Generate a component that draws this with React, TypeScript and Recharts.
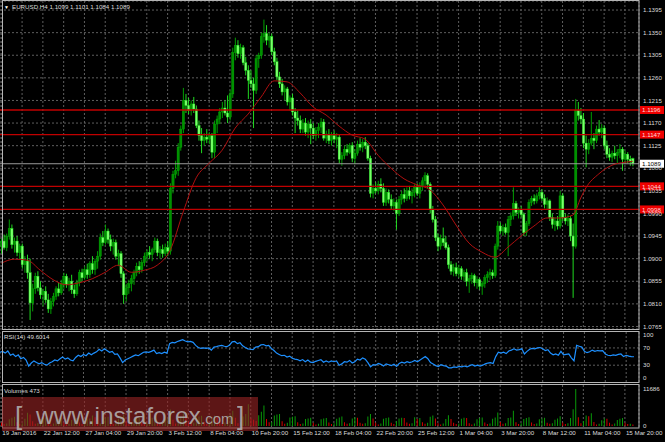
import React from "react";
import {
  ComposedChart,
  Bar,
  Line,
  XAxis,
  YAxis,
  CartesianGrid,
  ReferenceLine,
  Cell,
} from "recharts";

// EURUSD H4, one entry per bar (19 Jan 2016 20:00 .. 16 Mar 2016)
const opens = [
  1.0925, 1.0935, 1.0922, 1.0945, 1.0960, 1.0928, 1.0935, 1.0912, 1.0925, 1.0888,
  1.0895, 1.0872, 1.0812, 1.0840, 1.0865, 1.0842, 1.0828, 1.0835, 1.0818, 1.0800,
  1.0815, 1.0825, 1.0840, 1.0832, 1.0850, 1.0865, 1.0848, 1.0855, 1.0838, 1.0830,
  1.0852, 1.0872, 1.0862, 1.0878, 1.0868, 1.0890, 1.0878, 1.0895, 1.0905, 1.0942,
  1.0932, 1.0955, 1.0938, 1.0925, 1.0932, 1.0905, 1.0910, 1.0870, 1.0828, 1.0842,
  1.0850, 1.0860, 1.0872, 1.0885, 1.0878, 1.0892, 1.0905, 1.0912, 1.0908, 1.0918,
  1.0935, 1.0912, 1.0918, 1.0910, 1.0922, 1.0915, 1.1040, 1.1068, 1.1075, 1.1122,
  1.1158, 1.1215, 1.1205, 1.1195, 1.1208, 1.1198, 1.1165, 1.1145, 1.1135, 1.1142,
  1.1138, 1.1145, 1.1112, 1.1168, 1.1178, 1.1192, 1.1200, 1.1190, 1.1182, 1.1228,
  1.1310, 1.1325, 1.1308, 1.1320, 1.1290, 1.1275, 1.1255, 1.1248, 1.1235, 1.1298,
  1.1305, 1.1342, 1.1348, 1.1335, 1.1342, 1.1312, 1.1292, 1.1262, 1.1248, 1.1232,
  1.1238, 1.1212, 1.1220, 1.1192, 1.1180, 1.1175, 1.1158, 1.1170, 1.1152, 1.1168,
  1.1160, 1.1145, 1.1155, 1.1162, 1.1172, 1.1140, 1.1148, 1.1135, 1.1145, 1.1138,
  1.1142, 1.1098, 1.1105, 1.1118, 1.1112, 1.1125, 1.1100, 1.1110, 1.1128, 1.1122,
  1.1132, 1.1125, 1.1100, 1.1030, 1.1040, 1.1035, 1.1048, 1.1040, 1.1012, 1.1032,
  1.1018, 1.1005, 1.1012, 1.0990, 1.1018, 1.1028, 1.1020, 1.1035, 1.1025, 1.1032,
  1.1042, 1.1030, 1.1045, 1.1055, 1.1065, 1.1048, 1.0998, 1.0978, 1.0942, 1.0925,
  1.0940, 1.0932, 1.0922, 1.0888, 1.0875, 1.0882, 1.0870, 1.0880, 1.0865, 1.0872,
  1.0855, 1.0860, 1.0866, 1.0852, 1.0858, 1.0845, 1.0850, 1.0862, 1.0868, 1.0872,
  1.0866, 1.0925, 1.0965, 1.0955, 1.0962, 1.0952, 1.0978, 1.0985, 1.1010, 1.0992,
  1.0998, 1.0988, 1.0952, 1.0970, 1.1012, 1.1020, 1.1015, 1.1025, 1.1032, 1.1020,
  1.1008, 1.1015, 1.0982, 1.0968, 1.0975, 1.0965, 1.1025, 1.0982, 1.0975, 1.0980,
  1.0945, 1.0925, 1.1195, 1.1185, 1.1178, 1.1130, 1.1118, 1.1130, 1.1140, 1.1135,
  1.1158, 1.1152, 1.1160, 1.1125, 1.1108, 1.1102, 1.1110, 1.1105, 1.1112, 1.1118,
  1.1098, 1.1108, 1.1098, 1.1099,
];

const highs = [
  1.0940, 1.0948, 1.0950, 1.0978, 1.0968, 1.0942, 1.0945, 1.0930, 1.0930, 1.0905,
  1.0908, 1.0900, 1.0850, 1.0872, 1.0875, 1.0855, 1.0840, 1.0845, 1.0830, 1.0822,
  1.0832, 1.0845, 1.0852, 1.0858, 1.0872, 1.0870, 1.0862, 1.0868, 1.0848, 1.0858,
  1.0878, 1.0880, 1.0885, 1.0890, 1.0895, 1.0905, 1.0900, 1.0915, 1.0950, 1.0955,
  1.0968, 1.0960, 1.0948, 1.0940, 1.0938, 1.0918, 1.0915, 1.0875, 1.0850, 1.0858,
  1.0868, 1.0878, 1.0892, 1.0895, 1.0898, 1.0912, 1.0918, 1.0925, 1.0922, 1.0942,
  1.0940, 1.0925, 1.0928, 1.0930, 1.0935, 1.1050, 1.1075, 1.1095, 1.1130, 1.1165,
  1.1240, 1.1228, 1.1220, 1.1215, 1.1222, 1.1205, 1.1175, 1.1160, 1.1150, 1.1158,
  1.1152, 1.1150, 1.1175, 1.1185, 1.1200, 1.1212, 1.1215, 1.1225, 1.1235, 1.1320,
  1.1340, 1.1335, 1.1328, 1.1325, 1.1302, 1.1285, 1.1275, 1.1260, 1.1305, 1.1310,
  1.1350, 1.1376, 1.1365, 1.1350, 1.1348, 1.1320, 1.1300, 1.1272, 1.1258, 1.1245,
  1.1242, 1.1225, 1.1228, 1.1200, 1.1195, 1.1185, 1.1178, 1.1180, 1.1175, 1.1178,
  1.1170, 1.1162, 1.1170, 1.1180, 1.1178, 1.1155, 1.1158, 1.1152, 1.1155, 1.1150,
  1.1148, 1.1112, 1.1125, 1.1128, 1.1130, 1.1132, 1.1118, 1.1135, 1.1140, 1.1138,
  1.1142, 1.1130, 1.1105, 1.1048, 1.1052, 1.1055, 1.1060, 1.1050, 1.1040, 1.1038,
  1.1028, 1.1020, 1.1018, 1.1025, 1.1035, 1.1040, 1.1042, 1.1045, 1.1040, 1.1048,
  1.1050, 1.1052, 1.1062, 1.1072, 1.1070, 1.1052, 1.1005, 1.0985, 1.0950, 1.0948,
  1.0962, 1.0945, 1.0928, 1.0895, 1.0890, 1.0892, 1.0888, 1.0885, 1.0878, 1.0880,
  1.0868, 1.0872, 1.0870, 1.0865, 1.0862, 1.0855, 1.0868, 1.0875, 1.0880, 1.0878,
  1.0930, 1.0975, 1.0972, 1.0968, 1.0970, 1.0985, 1.0992, 1.1042, 1.1015, 1.1002,
  1.1005, 1.0992, 1.0975, 1.1018, 1.1025, 1.1028, 1.1030, 1.1042, 1.1038, 1.1028,
  1.1022, 1.1018, 1.0990, 1.0982, 1.0985, 1.1035, 1.1030, 1.0990, 1.0988, 1.0985,
  1.0970, 1.1218, 1.1212, 1.1200, 1.1190, 1.1145, 1.1138, 1.1192, 1.1150, 1.1165,
  1.1176, 1.1168, 1.1165, 1.1135, 1.1120, 1.1115, 1.1125, 1.1118, 1.1128, 1.1122,
  1.1115, 1.1112, 1.1105, 1.1101,
];

const lows = [
  1.0910, 1.0918, 1.0915, 1.0938, 1.0920, 1.0912, 1.0905, 1.0898, 1.0880, 1.0872,
  1.0860, 1.0778, 1.0795, 1.0830, 1.0835, 1.0820, 1.0805, 1.0812, 1.0792, 1.0790,
  1.0805, 1.0818, 1.0825, 1.0828, 1.0840, 1.0842, 1.0835, 1.0830, 1.0822, 1.0826,
  1.0845, 1.0855, 1.0858, 1.0860, 1.0862, 1.0870, 1.0868, 1.0880, 1.0898, 1.0925,
  1.0928, 1.0930, 1.0915, 1.0908, 1.0898, 1.0885, 1.0862, 1.0810, 1.0815, 1.0830,
  1.0835, 1.0848, 1.0865, 1.0870, 1.0872, 1.0885, 1.0895, 1.0900, 1.0895, 1.0912,
  1.0905, 1.0900, 1.0902, 1.0905, 1.0905, 1.0908, 1.1030, 1.1060, 1.1065, 1.1115,
  1.1150, 1.1190, 1.1188, 1.1185, 1.1190, 1.1160, 1.1135, 1.1110, 1.1125, 1.1130,
  1.1128, 1.1100, 1.1100, 1.1150, 1.1168, 1.1180, 1.1185, 1.1170, 1.1175, 1.1220,
  1.1295, 1.1300, 1.1298, 1.1285, 1.1265, 1.1218, 1.1240, 1.1160, 1.1228, 1.1280,
  1.1298, 1.1330, 1.1325, 1.1320, 1.1305, 1.1285, 1.1255, 1.1240, 1.1225, 1.1215,
  1.1205, 1.1195, 1.1185, 1.1150, 1.1165, 1.1150, 1.1150, 1.1145, 1.1140, 1.1128,
  1.1138, 1.1135, 1.1140, 1.1150, 1.1135, 1.1130, 1.1128, 1.1125, 1.1130, 1.1120,
  1.1090, 1.1085, 1.1098, 1.1105, 1.1108, 1.1092, 1.1088, 1.1105, 1.1115, 1.1112,
  1.1118, 1.1095, 1.1022, 1.1020, 1.1030, 1.1028, 1.1032, 1.1005, 1.1005, 1.1010,
  1.0998, 1.0995, 1.0958, 1.0985, 1.1008, 1.1012, 1.1015, 1.1018, 1.1010, 1.1022,
  1.1025, 1.1020, 1.1035, 1.1045, 1.1040, 1.0990, 1.0972, 1.0935, 1.0915, 1.0918,
  1.0925, 1.0918, 1.0880, 1.0868, 1.0865, 1.0865, 1.0862, 1.0858, 1.0855, 1.0845,
  1.0832, 1.0850, 1.0845, 1.0840, 1.0838, 1.0828, 1.0842, 1.0852, 1.0858, 1.0860,
  1.0862, 1.0918, 1.0950, 1.0945, 1.0948, 1.0905, 1.0965, 1.0978, 1.0985, 1.0980,
  1.0982, 1.0945, 1.0945, 1.0965, 1.1005, 1.1008, 1.1010, 1.1018, 1.1015, 1.1000,
  1.0998, 1.0975, 1.0960, 1.0955, 1.0958, 1.0960, 1.0975, 1.0968, 1.0965, 1.0935,
  1.0822, 1.0920, 1.1175, 1.1168, 1.1120, 1.1082, 1.1108, 1.1125, 1.1118, 1.1130,
  1.1145, 1.1140, 1.1118, 1.1100, 1.1095, 1.1092, 1.1098, 1.1090, 1.1100, 1.1075,
  1.1088, 1.1090, 1.1085, 1.1084,
];

const closes = [
  1.0935, 1.0922, 1.0945, 1.0960, 1.0928, 1.0935, 1.0912, 1.0925, 1.0888, 1.0895,
  1.0872, 1.0812, 1.0840, 1.0865, 1.0842, 1.0828, 1.0835, 1.0818, 1.0800, 1.0815,
  1.0825, 1.0840, 1.0832, 1.0850, 1.0865, 1.0848, 1.0855, 1.0838, 1.0830, 1.0852,
  1.0872, 1.0862, 1.0878, 1.0868, 1.0890, 1.0878, 1.0895, 1.0905, 1.0942, 1.0932,
  1.0955, 1.0938, 1.0925, 1.0932, 1.0905, 1.0910, 1.0870, 1.0828, 1.0842, 1.0850,
  1.0860, 1.0872, 1.0885, 1.0878, 1.0892, 1.0905, 1.0912, 1.0908, 1.0918, 1.0935,
  1.0912, 1.0918, 1.0910, 1.0922, 1.0915, 1.1040, 1.1068, 1.1075, 1.1122, 1.1158,
  1.1215, 1.1205, 1.1195, 1.1208, 1.1198, 1.1165, 1.1145, 1.1135, 1.1142, 1.1138,
  1.1145, 1.1112, 1.1168, 1.1178, 1.1192, 1.1200, 1.1190, 1.1182, 1.1228, 1.1310,
  1.1325, 1.1308, 1.1320, 1.1290, 1.1275, 1.1255, 1.1248, 1.1235, 1.1298, 1.1305,
  1.1342, 1.1348, 1.1335, 1.1342, 1.1312, 1.1292, 1.1262, 1.1248, 1.1232, 1.1238,
  1.1212, 1.1220, 1.1192, 1.1180, 1.1175, 1.1158, 1.1170, 1.1152, 1.1168, 1.1160,
  1.1145, 1.1155, 1.1162, 1.1172, 1.1140, 1.1148, 1.1135, 1.1145, 1.1138, 1.1142,
  1.1098, 1.1105, 1.1118, 1.1112, 1.1125, 1.1100, 1.1110, 1.1128, 1.1122, 1.1132,
  1.1125, 1.1100, 1.1030, 1.1040, 1.1035, 1.1048, 1.1040, 1.1012, 1.1032, 1.1018,
  1.1005, 1.1012, 1.0990, 1.1018, 1.1028, 1.1020, 1.1035, 1.1025, 1.1032, 1.1042,
  1.1030, 1.1045, 1.1055, 1.1065, 1.1048, 1.0998, 1.0978, 1.0942, 1.0925, 1.0940,
  1.0932, 1.0922, 1.0888, 1.0875, 1.0882, 1.0870, 1.0880, 1.0865, 1.0872, 1.0855,
  1.0860, 1.0866, 1.0852, 1.0858, 1.0845, 1.0850, 1.0862, 1.0868, 1.0872, 1.0866,
  1.0925, 1.0965, 1.0955, 1.0962, 1.0952, 1.0978, 1.0985, 1.1010, 1.0992, 1.0998,
  1.0988, 1.0952, 1.0970, 1.1012, 1.1020, 1.1015, 1.1025, 1.1032, 1.1020, 1.1008,
  1.1015, 1.0982, 1.0968, 1.0975, 1.0965, 1.1025, 1.0982, 1.0975, 1.0980, 1.0945,
  1.0925, 1.1195, 1.1185, 1.1178, 1.1130, 1.1118, 1.1130, 1.1140, 1.1135, 1.1158,
  1.1152, 1.1160, 1.1125, 1.1108, 1.1102, 1.1110, 1.1105, 1.1112, 1.1118, 1.1098,
  1.1108, 1.1098, 1.1094, 1.1089,
];

// moving average at these bars
const maBars = [
  0, 5, 10, 15, 20, 25, 30, 35, 40, 45, 50, 55, 60, 65, 70, 75, 80, 85, 90, 95,
  100, 105, 110, 115, 120, 125, 130, 135, 140, 145, 150, 155, 160, 165, 170, 175,
  180, 185, 190, 195, 200, 205, 210, 215, 220, 223, 225, 230, 235, 240, 243,
];
const maValues = [
  1.0891, 1.0899, 1.0897, 1.0877, 1.0858, 1.0848, 1.0852, 1.0860, 1.0873, 1.0887,
  1.0873, 1.0877, 1.0887, 1.0917, 1.0993, 1.1061, 1.1090, 1.1116, 1.1160, 1.1188,
  1.1222, 1.1254, 1.1252, 1.1230, 1.1202, 1.1186, 1.1164, 1.1146, 1.1138, 1.1106,
  1.1080, 1.1059, 1.1047, 1.1037, 1.1007, 1.0967, 1.0931, 1.0913, 1.0903, 1.0923,
  1.0945, 1.0965, 1.0981, 1.0981, 1.0987, 1.1021, 1.1041, 1.1069, 1.1086, 1.1092,
  1.1094,
];

const rsiValues = [
  60, 62, 58, 63, 53, 56, 50, 54, 45, 48,
  42, 28, 35, 40, 36, 33, 36, 32, 30, 35,
  38, 42, 40, 45, 49, 44, 47, 42, 40, 48,
  53, 50, 55, 52, 58, 54, 58, 61, 67, 63,
  68, 64, 60, 62, 55, 56, 47, 36, 42, 45,
  48, 51, 54, 52, 56, 60, 61, 60, 62, 65,
  57, 59, 57, 60, 58, 80, 83, 82, 85, 87,
  89, 86, 84, 85, 83, 76, 71, 69, 70, 69,
  70, 65, 72, 73, 75, 76, 74, 73, 77, 84,
  85, 80, 82, 75, 71, 68, 67, 66, 72, 73,
  77, 78, 75, 76, 69, 64, 58, 55, 52, 53,
  49, 51, 46, 44, 43, 40, 43, 38, 42, 37,
  36, 39, 41, 43, 37, 40, 37, 40, 38, 40,
  30, 33, 38, 37, 41, 35, 38, 44, 42, 47,
  44, 36, 26, 31, 30, 34, 32, 28, 33, 31,
  29, 32, 27, 34, 37, 35, 38, 36, 38, 41,
  38, 42, 46, 50, 45, 36, 33, 29, 27, 31,
  29, 28, 24, 24, 26, 25, 27, 26, 28, 26,
  29, 31, 28, 30, 28, 30, 33, 35, 36, 34,
  50, 60, 58, 60, 57, 63, 65, 68, 65, 66,
  68, 56, 62, 67, 69, 68, 70, 71, 68, 64,
  66, 58, 54, 56, 53, 62, 54, 55, 56, 47,
  40, 76, 74, 72, 62, 59, 61, 65, 62, 64,
  63, 64, 56, 53, 52, 54, 53, 55, 56, 50,
  53, 51, 50, 49.6014,
];

const volumes = [
  1100, 600, 800, 2100, 2600, 2900, 1200, 650, 900, 2300,
  4200, 3600, 1500, 700, 950, 2200, 2500, 2700, 1100, 500,
  800, 2000, 2300, 2600, 1000, 550, 750, 1900, 2200, 2500,
  1100, 600, 800, 2100, 2400, 3300, 2800, 700, 900, 2300,
  2600, 2900, 1300, 600, 900, 2400, 3000, 3500, 1400, 550,
  800, 2100, 2500, 2700, 1000, 600, 850, 2200, 2600, 3000,
  1200, 650, 900, 2300, 2800, 5200, 2000, 800, 1200, 3000,
  4000, 3300, 1400, 700, 1000, 2800, 3000, 3200, 1300, 600,
  1000, 2700, 3200, 3100, 1500, 800, 1100, 3200, 3600, 4800,
  2600, 900, 1200, 3000, 3800, 6900, 2400, 2000, 1600, 3400,
  4500, 6500, 2200, 1200, 1300, 3300, 3600, 3800, 1500, 700,
  1000, 2700, 2900, 3100, 1200, 600, 800, 2200, 2400, 2600,
  1000, 500, 700, 2100, 2400, 2500, 1100, 600, 900, 2300,
  2700, 3000, 1200, 700, 900, 2400, 2800, 2600, 1000, 700,
  900, 3000, 3800, 2400, 1000, 500, 800, 2300, 2500, 2700,
  1000, 600, 1500, 2400, 2600, 2500, 1100, 700, 900, 2800,
  2200, 2500, 1200, 700, 1000, 2900, 3300, 2400, 900, 500,
  800, 2200, 3400, 2200, 1000, 600, 800, 2300, 2600, 2500,
  900, 500, 800, 2100, 2500, 2700, 1100, 600, 800, 2300,
  2700, 4300, 1300, 700, 900, 2500, 2700, 4800, 1200, 600,
  900, 2200, 2500, 2800, 1100, 600, 800, 2100, 2400, 2600,
  1000, 700, 900, 2000, 2400, 3100, 1100, 600, 900, 2500,
  5300, 11686, 2800, 900, 1600, 3300, 3100, 4000, 1300, 500,
  700, 1800, 2400, 2300, 1000, 500, 800, 1900, 2300, 2500,
  1000, 600, 700, 473,
];

const priceTicks = [
  1.0765, 1.081, 1.0855, 1.09, 1.0945, 1.099, 1.1035, 1.108, 1.1125, 1.117,
  1.1215, 1.126, 1.1305, 1.135, 1.1395,
];
const levelLines = [1.1196, 1.1147, 1.1044, 1.0998];
const lastPrice = 1.1089;

const gridBars = [
  0, 8, 16, 24, 32, 40, 48, 56, 64, 72, 80, 88, 96, 104, 112, 120, 128, 136, 144,
  152, 160, 168, 176, 184, 192, 200, 208, 216, 224, 232, 240,
];
const labelBars = [0, 16, 32, 48, 64, 80, 96, 112, 128, 144, 160, 176, 192, 208, 224, 240];
const labelTexts = [
  "19 Jan 2016", "22 Jan 12:00", "27 Jan 04:00", "29 Jan 20:00", "3 Feb 12:00",
  "8 Feb 04:00", "10 Feb 20:00", "15 Feb 12:00", "18 Feb 04:00", "22 Feb 20:00",
  "25 Feb 12:00", "1 Mar 04:00", "3 Mar 20:00", "8 Mar 12:00", "11 Mar 04:00",
  "15 Mar 20:00",
];

const rows = closes.map((c, i) => {
  const k = maBars.indexOf(i);
  return {
    i,
    open: opens[i],
    high: highs[i],
    low: lows[i],
    close: c,
    range: [lows[i], highs[i]],
    ma: k >= 0 ? maValues[k] : null,
    rsi: rsiValues[i],
    vol: volumes[i],
  };
});

const FONT = "'Liberation Sans', Arial, sans-serif";
const TXT = "#dcdcdc";
const GRID = "#5e5e5e";
const W = 665;
const AXIS_W = 26;

function Candle(props: any) {
  const { x, width, payload } = props;
  let { y, height } = props;
  if (!payload || y == null || height == null) return <g />;
  if (height < 0) {
    y += height;
    height = -height;
  }
  const { open, close, high, low } = payload;
  const span = high - low || 1e-9;
  const py = (p: number) => y + ((high - p) / span) * height;
  const cx = x + width / 2;
  const up = close >= open;
  const top = py(Math.max(open, close));
  const bot = py(Math.min(open, close));
  const bw = Math.max(1.5, width * 0.75);
  const wick = up ? "#00b000" : "#22f022";
  const body = up ? "#009000" : "#7cff6c";
  return (
    <g>
      <line x1={cx} x2={cx} y1={y} y2={y + height} stroke={wick} strokeWidth={0.9} />
      <rect x={cx - bw / 2} y={top} width={bw} height={Math.max(0.9, bot - top)} fill={body} stroke={wick} strokeWidth={0.4} />
    </g>
  );
}

function tagLabel(text: string, bg: string, fg: string) {
  return (props: any) => {
    const vb = props.viewBox || {};
    const x = vb.x + vb.width + 1;
    const y = vb.y;
    return (
      <g>
        <rect x={x} y={y - 4} width={24} height={8} fill={bg} />
        <text x={x + 2} y={y + 2.3} fontSize={6.2} fontFamily={FONT} fill={fg}>
          {text}
        </text>
      </g>
    );
  };
}

function TimeTick(props: any) {
  const { x, y, payload } = props;
  const k = labelBars.indexOf(payload.value);
  if (k < 0) return <g />;
  return (
    <text x={x + 1} y={y + 8} fontSize={6.2} fontFamily={FONT} fill={TXT} textAnchor="start">
      {labelTexts[k]}
    </text>
  );
}

const yTick = { fontSize: 6.2, fontFamily: FONT, fill: TXT };

export default function App() {
  return (
    <div style={{ position: "absolute", left: 0, top: 0, width: W, height: 442, background: "#000", overflow: "hidden" }}>
      <div style={{ position: "absolute", left: 0, top: 0 }}>
        <ComposedChart width={W} height={330} data={rows} margin={{ top: 1, right: 0, bottom: 1, left: 0 }} barCategoryGap={0}>
          <CartesianGrid stroke={GRID} strokeDasharray="2 2" />
          <XAxis dataKey="i" hide ticks={gridBars} interval={0} padding={{ left: 0, right: 5 }} />
          <YAxis
            orientation="right"
            width={AXIS_W}
            domain={[1.076, 1.1413]}
            ticks={priceTicks}
            allowDataOverflow
            interval={0}
            tickLine={false}
            axisLine={false}
            tickSize={2}
            tickMargin={2}
            tick={yTick}
            tickFormatter={(v: number) => v.toFixed(4)}
          />
          {levelLines.map((p) => (
            <ReferenceLine key={p} y={p} stroke="#c00000" strokeWidth={1.3} label={tagLabel(p.toFixed(4), "#ee0000", "#ffd8d8")} />
          ))}
          <ReferenceLine y={lastPrice} stroke="#9a9a9a" strokeWidth={1} label={tagLabel(lastPrice.toFixed(4), "#ffffff", "#000000")} />
          <Bar dataKey="range" shape={<Candle />} isAnimationActive={false} />
          <Line dataKey="ma" type="monotone" stroke="#b01010" strokeWidth={1} dot={false} connectNulls isAnimationActive={false} />
        </ComposedChart>
      </div>

      <div style={{ position: "absolute", left: 0, top: 330 }}>
        <ComposedChart width={W} height={53} data={rows} margin={{ top: 2, right: 0, bottom: 1, left: 0 }}>
          <CartesianGrid stroke={GRID} strokeDasharray="2 2" horizontal={false} />
          <XAxis dataKey="i" hide ticks={gridBars} interval={0} padding={{ left: 0, right: 5 }} />
          <YAxis
            orientation="right"
            width={AXIS_W}
            domain={[-9, 107]}
            ticks={[0, 30, 70, 100]}
            interval={0}
            tickLine={false}
            axisLine={false}
            tickSize={2}
            tickMargin={2}
            tick={yTick}
          />
          <ReferenceLine y={70} stroke={GRID} strokeDasharray="2 2" />
          <ReferenceLine y={30} stroke={GRID} strokeDasharray="2 2" />
          <Line dataKey="rsi" type="linear" stroke="#1e90ff" strokeWidth={1.2} dot={false} isAnimationActive={false} />
        </ComposedChart>
      </div>

      <div style={{ position: "absolute", left: 0, top: 383 }}>
        <ComposedChart width={W} height={59} data={rows} margin={{ top: 2, right: 0, bottom: 0, left: 0 }} barCategoryGap={0}>
          <CartesianGrid stroke={GRID} strokeDasharray="2 2" horizontal={false} />
          <XAxis
            dataKey="i"
            ticks={gridBars}
            interval={0}
            padding={{ left: 0, right: 5 }}
            height={15}
            tickLine={false}
            axisLine={false}
            tickSize={0}
            tickMargin={0}
            tick={<TimeTick />}
          />
          <YAxis
            orientation="right"
            width={AXIS_W}
            domain={[-316, 12950]}
            ticks={[0, 11686]}
            allowDataOverflow
            interval={0}
            tickLine={false}
            axisLine={false}
            tickSize={2}
            tickMargin={2}
            tick={yTick}
          />
          <Bar dataKey="vol" barSize={1} isAnimationActive={false}>
            {rows.map((r, i) => (
              <Cell key={i} fill={i > 0 && r.vol > volumes[i - 1] ? "#089a08" : "#d40000"} />
            ))}
          </Bar>
        </ComposedChart>
      </div>

      <svg width={W} height={442} style={{ position: "absolute", left: 0, top: 0, pointerEvents: "none" }} fontFamily={FONT}>
        <rect x={2.5} y={0.5} width={636.5} height={329} fill="none" stroke="#b4b4b4" />
        <rect x={2.5} y={331.5} width={636.5} height={51} fill="none" stroke="#b4b4b4" />
        <rect x={2.5} y={384.5} width={636.5} height={43.5} fill="none" stroke="#b4b4b4" />
        <text x={4} y={8.5} fontSize={5} fill="#ffffff">▼</text>
        <text x={12} y={8.5} fontSize={6.2} fill={TXT}>EURUSD,H4  1.1099 1.1101 1.1084 1.1089</text>
        <text x={4} y={339} fontSize={6.2} fill={TXT}>RSI(14) 49.6014</text>
        <text x={4} y={393} fontSize={6.2} fill={TXT}>Volumes 473</text>
        <rect x={2} y={397} width={256} height={34} fill="rgb(150,35,35)" opacity={0.62} />
        <text x={15} y={425} fontSize={26} fill="#b4b4b4" opacity={0.85}>[</text>
        <text x={36} y={424} fontSize={24.5} fill="#b4b4b4" opacity={0.85}>www.instaforex</text>
        <text x={201} y={424} fontSize={15} fill="#b4b4b4" opacity={0.85}>.com</text>
        <text x={237} y={425} fontSize={26} fill="#b4b4b4" opacity={0.85}>]</text>
      </svg>
    </div>
  );
}
